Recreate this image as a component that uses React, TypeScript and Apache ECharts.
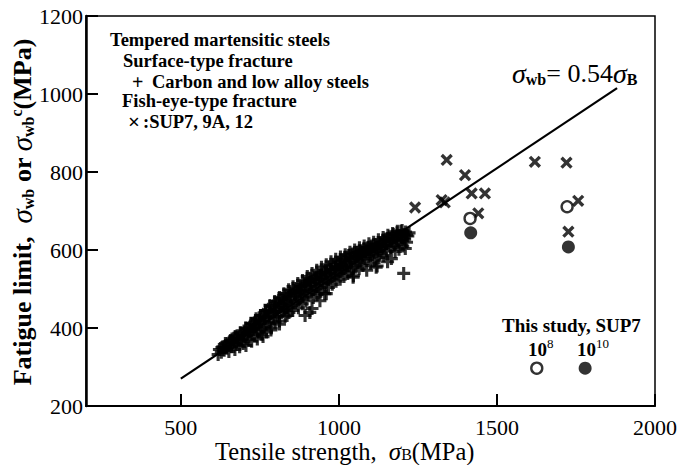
import React, { useEffect, useRef } from 'react';
import * as echarts from 'echarts';

const FONT = '"Liberation Serif", "Times New Roman", serif';

const xTickValues = [500, 1000, 1500, 2000];
const yTickValues = [200, 400, 600, 800, 1000, 1200];

// Surface-type fracture: carbon and low alloy steels (+)
const carbonSteels: [number, number][] = [
  [618, 332], [622, 345], [628, 338], [633, 352], [637, 343], [641, 360], [645, 348], [650, 356], [652, 340],
  [657, 368], [660, 352], [664, 362], [668, 374], [671, 345], [675, 358], [678, 380], [682, 367], [686, 352],
  [690, 385], [693, 372], [697, 360], [700, 392], [703, 378], [706, 355], [709, 398],
  [712, 385], [715, 370], [718, 402], [721, 392], [724, 366], [727, 410], [730, 396], [733, 381], [736, 418],
  [739, 404], [742, 372], [745, 390], [748, 426], [750, 412], [753, 398], [756, 384], [759, 432], [762, 418],
  [765, 404], [768, 440], [771, 390], [774, 425], [777, 448], [780, 412], [783, 436], [786, 400], [789, 455],
  [792, 428], [795, 442], [798, 415], [800, 462], [803, 447], [806, 430], [809, 470], [812, 418], [815, 456],
  [818, 440], [821, 476], [824, 462], [827, 448], [830, 430], [833, 484], [836, 468], [839, 452], [842, 440],
  [845, 490], [848, 474], [851, 458], [854, 445], [857, 496], [760, 378], [785, 395], [812, 410], [836, 432],
  [860, 482], [863, 465], [866, 500], [869, 488], [872, 452], [875, 474], [878, 506], [881, 492], [884, 462],
  [887, 480], [890, 512], [893, 498], [896, 470], [899, 520], [902, 486], [905, 506], [908, 440], [910, 526],
  [913, 494], [916, 512], [919, 478], [922, 530], [925, 500], [928, 518], [931, 486], [934, 536], [937, 508],
  [940, 524], [943, 494], [946, 542], [949, 514], [952, 530], [955, 488], [958, 548], [961, 520], [964, 538],
  [967, 504], [970, 556], [973, 528], [976, 544], [979, 512], [982, 562], [985, 534], [988, 550], [991, 520],
  [893, 432], [915, 450], [940, 470], [960, 488],
  [995, 568], [998, 540], [1001, 556], [1004, 525], [1007, 574], [1010, 548], [1013, 562], [1016, 532],
  [1019, 580], [1022, 554], [1025, 568], [1028, 540], [1031, 586], [1034, 560], [1037, 574], [1040, 546],
  [1043, 590], [1046, 534], [1049, 580], [1052, 556], [1055, 594], [1058, 568], [1061, 582], [1064, 552],
  [1067, 598], [1070, 574], [1073, 588], [1076, 560], [1079, 602], [1082, 578], [1085, 592], [1088, 548],
  [1091, 606], [1094, 584], [1097, 596], [1100, 566], [1103, 610], [1106, 588], [1109, 600], [1112, 574],
  [1115, 614], [1118, 556], [1121, 596], [1124, 608], [1127, 580], [1045, 530], [1121, 559],
  [1130, 618], [1133, 592], [1136, 604], [1139, 624], [1142, 586], [1145, 612], [1148, 628], [1151, 598],
  [1154, 570], [1157, 618], [1160, 634], [1163, 606], [1166, 578], [1169, 624], [1172, 640], [1175, 612],
  [1178, 596], [1181, 630], [1184, 644], [1187, 620], [1190, 602], [1193, 636], [1196, 648], [1199, 626],
  [1202, 610], [1205, 640], [1208, 628], [1211, 646], [1214, 620], [1218, 636], [1222, 644], [1210, 604],
  [1205, 540],
  [630, 350], [655, 365], [672, 378], [688, 388], [705, 400], [722, 412], [738, 424], [752, 432], [768, 445],
  [782, 458], [797, 468], [812, 478], [826, 488], [841, 498], [855, 506], [870, 514], [885, 522], [900, 532],
  [915, 540], [930, 548], [945, 556], [960, 562], [975, 570], [990, 576], [1005, 582], [1020, 588], [1035, 594],
  [1050, 600], [1065, 606], [1080, 610], [1095, 616], [1110, 620], [1125, 626], [1140, 632], [1155, 638],
  [1170, 642], [1185, 648], [1200, 650],
  [640, 350], [662, 372], [680, 372], [698, 382], [716, 395], [734, 408], [750, 420], [766, 428], [782, 444],
  [798, 452], [814, 462], [830, 470], [846, 480], [862, 490], [878, 496], [894, 508], [910, 516], [926, 526],
  [942, 534], [958, 540], [974, 550], [990, 556], [1006, 562], [1022, 570], [1038, 578], [1054, 584],
  [1070, 590], [1086, 596], [1102, 600], [1118, 606], [1134, 610], [1150, 616], [1166, 622], [1182, 628],
  [1198, 634], [1214, 638],
];

// Fish-eye-type fracture: SUP7, 9A, 12 (x)
const supSteels: [number, number][] = [
  [1241, 709], [1325, 728], [1335, 722], [1341, 831], [1399, 792], [1420, 745], [1462, 745], [1441, 694],
  [1620, 826], [1720, 824], [1757, 726], [1726, 647],
];

// This study, SUP7
const thisStudy1e8: [number, number][] = [[1415, 681], [1722, 711]];
const thisStudy1e10: [number, number][] = [[1417, 644], [1726, 608]];
const keyMarker1e8: [number, number][] = [[1626, 297]];
const keyMarker1e10: [number, number][] = [[1779, 297]];

// sigma_wb = 0.54 sigma_B
const fitLine: [number, number][] = [[500, 270], [1880, 1015]];

const plusPath = 'path://M3.8,0H6.2V3.8H10V6.2H6.2V10H3.8V6.2H0V3.8H3.8Z';

export default function App() {
  const ref = useRef<HTMLDivElement>(null);
  useEffect(() => {
    if (!ref.current) return;
    const chart = echarts.init(ref.current, null, { renderer: 'svg' });
    const base = { fontFamily: FONT, color: '#000' };
    const richSerif = (size: number, extra: any = {}) => ({ fontFamily: FONT, fontSize: size, fill: '#000', color: '#000', ...extra });
    const plain = (text: string, x: number, y: number, size = 18.5, weight = 'bold', lh = 17) => ({
      type: 'text', x, y,
      style: { text, fontFamily: FONT, fontSize: size, fontWeight: weight, fill: '#000', verticalAlign: 'middle', lineHeight: lh },
    });
    chart.setOption({
      animation: false,
      backgroundColor: '#fff',
      textStyle: base,
      grid: {
        left: 86, right: 25, top: 16, bottom: 59,
        show: true, borderColor: '#000', borderWidth: 1.5, backgroundColor: 'transparent',
      },
      xAxis: {
        type: 'value', min: 200, max: 2000,
        splitLine: { show: false },
        axisLine: { show: true, onZero: false, lineStyle: { color: '#000', width: 2 } },
        axisTick: { show: true, inside: true, length: 12, customValues: xTickValues, lineStyle: { color: '#000', width: 2 } },
        axisLabel: { customValues: xTickValues, formatter: (v: number) => String(v), fontFamily: FONT, fontSize: 22, color: '#000', margin: 12, lineHeight: 18 },
      },
      yAxis: {
        type: 'value', min: 200, max: 1200, interval: 200,
        splitLine: { show: false },
        axisLine: { show: true, onZero: false, lineStyle: { color: '#000', width: 2.5 } },
        axisTick: { show: true, inside: true, length: 12, lineStyle: { color: '#000', width: 2 } },
        axisLabel: { formatter: (v: number) => String(v), fontFamily: FONT, fontSize: 22, color: '#000', margin: 3 },
      },
      series: [
        {
          type: 'line', data: fitLine, symbol: 'none',
          lineStyle: { color: '#000', width: 2.2 }, z: 3,
        },
        {
          type: 'scatter', data: carbonSteels, symbol: plusPath, symbolSize: 13,
          itemStyle: { color: '#000' }, z: 2,
        },
        {
          type: 'scatter', data: supSteels, symbol: plusPath, symbolSize: 14, symbolRotate: 45,
          itemStyle: { color: '#000' }, z: 4,
        },
        {
          type: 'scatter', data: [...thisStudy1e8, ...keyMarker1e8], symbol: 'circle', symbolSize: 11,
          itemStyle: { color: '#fff', borderColor: '#000', borderWidth: 2.4 }, z: 5,
        },
        {
          type: 'scatter', data: [...thisStudy1e10, ...keyMarker1e10], symbol: 'circle', symbolSize: 13,
          itemStyle: { color: '#000' }, z: 5,
        },
      ],
      graphic: [
        plain('Tempered martensitic steels', 110, 40),
        plain('Surface-type fracture', 123, 61),
        plain('+', 132, 82, 20, 'bold', 16),
        plain('Carbon and low alloy steels', 152, 82),
        plain('Fish-eye-type fracture', 122, 101),
        plain('×', 128, 122, 21, 'bold', 16),
        plain(':SUP7, 9A, 12', 143, 122),
        {
          type: 'text', x: 512, y: 73,
          style: {
            text: '{s|σ}{sub|wb}{n|= 0.54}{s|σ}{sub|B}', verticalAlign: 'middle',
            rich: {
              s: richSerif(28, { fontStyle: 'italic', verticalAlign: 'middle', lineHeight: 28 }),
              sub: richSerif(16, { fontWeight: 'bold', verticalAlign: 'bottom', lineHeight: 16 }),
              n: richSerif(26, { verticalAlign: 'middle', lineHeight: 28 }),
            },
          },
        },
        plain('This study, SUP7', 502, 325, 19),
        {
          type: 'text', x: 528, y: 348,
          style: {
            text: '{n|10}{p|8}', verticalAlign: 'middle',
            rich: { n: richSerif(19, { fontWeight: 'bold', verticalAlign: 'bottom', lineHeight: 22 }), p: richSerif(13, { verticalAlign: 'top', lineHeight: 14 }) },
          },
        },
        {
          type: 'text', x: 577, y: 348,
          style: {
            text: '{n|10}{p|10}', verticalAlign: 'middle',
            rich: { n: richSerif(19, { fontWeight: 'bold', verticalAlign: 'bottom', lineHeight: 22 }), p: richSerif(13, { verticalAlign: 'top', lineHeight: 14 }) },
          },
        },
        {
          type: 'text', x: 215, y: 451,
          style: {
            text: '{t|Tensile strength,  }{s|σ}{sub|B}{t|(MPa)}', verticalAlign: 'middle',
            rich: {
              t: richSerif(24.5, { verticalAlign: 'middle', lineHeight: 22 }),
              s: richSerif(25, { fontStyle: 'italic', verticalAlign: 'middle', lineHeight: 22 }),
              sub: richSerif(16, { verticalAlign: 'bottom', lineHeight: 14 }),
            },
          },
        },
        {
          type: 'text', x: 22, y: 212, rotation: Math.PI / 2,
          style: {
            text: '{t|Fatigue limit,  }{s|σ}{sub|wb}{t| or }{s|σ}{sub|wb}{sup|c}{t|(MPa)}', align: 'center', verticalAlign: 'middle',
            rich: {
              t: richSerif(26, { fontWeight: 'bold', verticalAlign: 'middle', lineHeight: 28 }),
              s: richSerif(29, { fontStyle: 'italic', verticalAlign: 'middle', lineHeight: 28 }),
              sub: richSerif(16, { fontWeight: 'bold', verticalAlign: 'bottom', lineHeight: 18 }),
              sup: richSerif(16, { fontWeight: 'bold', verticalAlign: 'top', lineHeight: 18 }),
            },
          },
        },
      ],
    });
    return () => chart.dispose();
  }, []);
  return <div ref={ref} style={{ width: 680, height: 465, position: 'fixed', left: 0, top: 0 }} />;
}
